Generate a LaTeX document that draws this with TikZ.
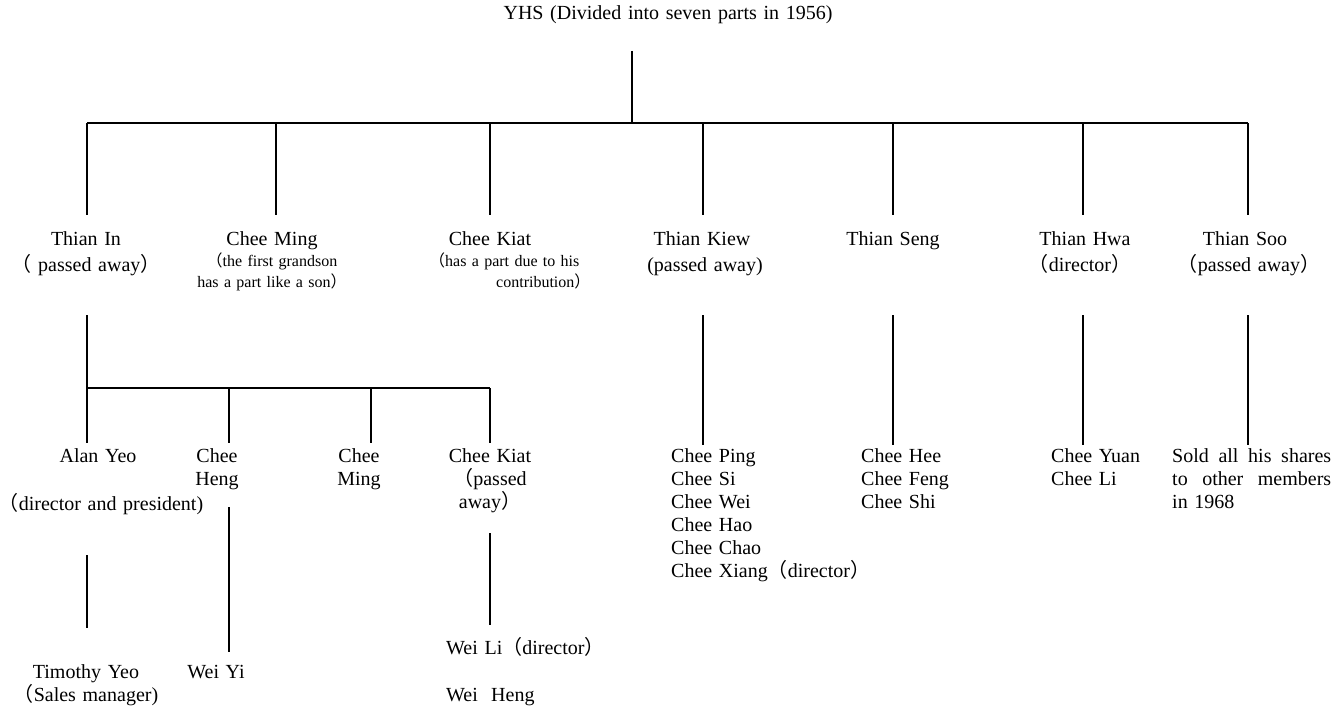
\documentclass[tikz,border=0pt]{standalone}
\usepackage{fontspec}
\setmainfont{Liberation Serif}
\newfontfamily\cjk{Noto Sans CJK SC}
\newcommand\lp{{\cjk （}}
\newcommand\rp{{\cjk ）}}
\begin{document}
\begin{tikzpicture}[x=1pt,y=-1pt,
  conn/.style={line width=1.1pt},
  big/.style={inner sep=0pt, font=\fontsize{20}{23}\selectfont, text width=220pt, align=center, anchor=base},
  small/.style={inner sep=0pt, font=\fontsize{16}{21}\selectfont, text width=220pt, align=center, anchor=base},
  list/.style={inner sep=0pt, font=\fontsize{20}{23}\selectfont, text width=200pt, align=left, anchor=base west}]
\useasboundingbox (0,0) rectangle (1344,709);
% title
\node[big, text width=420pt] (yhs) at (668,20) {YHS (Divided into seven parts in 1956)};
% level 1 names
\node[big] (tin)   at (86,245)   {Thian In};
\node[big] (cming) at (272,245)  {Chee Ming};
\node[big] (ckiat) at (490,245)  {Chee Kiat};
\node[big] (tkiew) at (702,245)  {Thian Kiew};
\node[big] (tseng) at (893,245)  {Thian Seng};
\node[big] (thwa)  at (1085,245) {Thian Hwa};
\node[big] (tsoo)  at (1245,245) {Thian Soo};
% level 1 notes
\node[big]   (tinn)   at (86,271)   {\lp\ passed away\rp};
\node[small] (cmingn) at (272,266)  {\lp the first grandson\\has a part like a son\rp};
\node[small, align=left, anchor=base west] (ckiatn) at (429,266) {\lp has a part due to his\\\hspace*{67pt}contribution\rp};
\node[big]   (tkiewn) at (705,271)  {(passed away)};
\node[big]   (thwan)  at (1080,271) {\lp director\rp};
\node[big]   (tsoon)  at (1249,271) {\lp passed away\rp};
% level 2
\node[big] (ayeo)   at (98,462)  {Alan Yeo};
\node[big] (ayeon)  at (101,510) {\lp director and president)};
\node[big] (cheng)  at (217,462) {Chee\\Heng};
\node[big] (cming2) at (359,462) {Chee\\Ming};
\node[big] (ckiat2) at (490,462) {Chee Kiat\\\lp passed\\away\rp};
\node[list] (kiewkids) at (671,462) {Chee Ping\\Chee Si\\Chee Wei\\Chee Hao\\Chee Chao\\Chee Xiang\lp director\rp};
\node[list] (sengkids) at (861,462) {Chee Hee\\Chee Feng\\Chee Shi};
\node[list] (hwakids)  at (1051,462) {Chee Yuan\\Chee Li};
\node[list, text width=159pt] (soonote) at (1172,462) {Sold\hfill all\hfill his\hfill shares\\to\hfill other\hfill members\\in 1968};
% level 3
\node[big] (tyeo)  at (86,678)  {Timothy Yeo\\\lp Sales manager)};
\node[big] (weiyi) at (216,678) {Wei Yi};
\node[list] (weili) at (446,654) {Wei Li\lp director\rp\\[24pt]Wei~ Heng};
% connectors
\coordinate (r0) at (632,51);
\coordinate (r1) at (632,123);
\draw[conn] (r0) -- (r1);
\coordinate (busL) at (87,123);
\coordinate (busR) at (1248,123);
\draw[conn] (busL) -- (busR);
\foreach \x/\n in {87/a,276/b,490/c,703/d,893/e,1083/f,1248/g}{
  \coordinate (top\n) at (\x,123);
  \coordinate (bot\n) at (\x,215);
  \draw[conn] (top\n) -- (bot\n);
}
\coordinate (tinA) at (87,315);
\coordinate (tinB) at (87,388);
\draw[conn] (tinA) -- (tinB);
\foreach \x/\n in {703/d,893/e,1083/f,1248/g}{
  \coordinate (lt\n) at (\x,315);
  \coordinate (lb\n) at (\x,445);
  \draw[conn] (lt\n) -- (lb\n);
}
\coordinate (bus2R) at (490,388);
\draw[conn] (tinB) -- (bus2R);
\foreach \x/\n in {87/a,229/b,371/c,490/d}{
  \coordinate (st\n) at (\x,388);
  \coordinate (sb\n) at (\x,443);
  \draw[conn] (st\n) -- (sb\n);
}
\coordinate (ayA) at (87,555);
\coordinate (ayB) at (87,628);
\draw[conn] (ayA) -- (ayB);
\coordinate (chA) at (229,507);
\coordinate (chB) at (229,652);
\draw[conn] (chA) -- (chB);
\coordinate (ckA) at (490,533);
\coordinate (ckB) at (490,625);
\draw[conn] (ckA) -- (ckB);
\end{tikzpicture}
\end{document}
